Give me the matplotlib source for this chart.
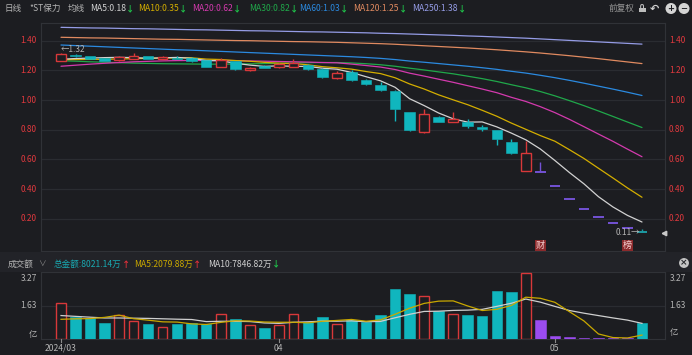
import matplotlib
matplotlib.use('Agg')
import matplotlib.pyplot as plt
from matplotlib.patches import Rectangle
import numpy as np
import pandas as pd

plt.rcParams['font.family'] = ['Noto Sans CJK SC', 'DejaVu Sans']

# ---------------- data ----------------
month_labels = ['2024/03', '04', '05']
month_first_idx = [0, 15, 34]

opens = [1.26, 1.305, 1.298, 1.281, 1.27, 1.28, 1.297, 1.28, 1.285, 1.286,
         1.268, 1.226, 1.261, 1.20, 1.23, 1.22, 1.226, 1.234, 1.211, 1.147,
         1.19, 1.135, 1.10, 1.061, 0.918, 0.783, 0.888, 0.855, 0.855, 0.82,
         0.80, 0.716, 0.525, 0.517, 0.42, 0.333, 0.266, 0.213, 0.17, 0.136, 0.11]
highs = [1.32, 1.31, 1.30, 1.283, 1.295, 1.315, 1.30, 1.30, 1.295, 1.29,
         1.27, 1.285, 1.265, 1.225, 1.233, 1.25, 1.28, 1.24, 1.215, 1.195,
         1.20, 1.14, 1.12, 1.065, 0.92, 0.94, 0.895, 0.92, 0.87, 0.835,
         0.80, 0.738, 0.727, 0.58, 0.42, 0.333, 0.266, 0.213, 0.17, 0.136, 0.13]
lows = [1.26, 1.29, 1.275, 1.262, 1.265, 1.275, 1.275, 1.275, 1.275, 1.255,
        1.22, 1.22, 1.20, 1.198, 1.215, 1.215, 1.22, 1.205, 1.15, 1.145,
        1.13, 1.10, 1.06, 0.86, 0.795, 0.78, 0.85, 0.85, 0.815, 0.79,
        0.70, 0.64, 0.52, 0.517, 0.42, 0.333, 0.266, 0.213, 0.17, 0.136, 0.11]
closes = [1.31, 1.297, 1.277, 1.266, 1.29, 1.30, 1.277, 1.29, 1.28, 1.26,
          1.225, 1.268, 1.207, 1.218, 1.218, 1.243, 1.25, 1.207, 1.155, 1.185,
          1.135, 1.106, 1.068, 0.938, 0.80, 0.904, 0.855, 0.873, 0.826, 0.807,
          0.738, 0.646, 0.646, 0.517, 0.42, 0.333, 0.266, 0.213, 0.17, 0.136, 0.11]

# moving averages (values for the early part)
ma5_head = [1.275, 1.280, 1.283, 1.286]
ma10_head = [1.272, 1.273, 1.274, 1.275, 1.277, 1.279, 1.281, 1.283, 1.284]
ma20_head = [1.228, 1.235, 1.242, 1.248, 1.253, 1.258, 1.261, 1.264, 1.266, 1.267,
             1.267, 1.267, 1.266, 1.264, 1.262, 1.260, 1.258, 1.256, 1.253]
ma30_head = [1.265, 1.262, 1.258, 1.255, 1.252, 1.249, 1.247, 1.245, 1.244, 1.243,
             1.242, 1.242, 1.243, 1.244, 1.246, 1.248, 1.250, 1.252, 1.253, 1.253,
             1.250, 1.245, 1.238, 1.228, 1.215, 1.203, 1.190, 1.177, 1.161]
ma60 = [1.371, 1.367, 1.363, 1.359, 1.355, 1.351, 1.347, 1.343, 1.339, 1.336,
        1.332, 1.328, 1.324, 1.320, 1.316, 1.312, 1.308, 1.304, 1.300, 1.296,
        1.292, 1.287, 1.281, 1.273, 1.263, 1.255, 1.246, 1.237, 1.228, 1.218,
        1.207, 1.194, 1.182, 1.167, 1.151, 1.133, 1.114, 1.094, 1.074, 1.053, 1.031]
ma120 = [1.423, 1.421, 1.419, 1.418, 1.416, 1.414, 1.412, 1.410, 1.409, 1.407,
         1.405, 1.403, 1.401, 1.400, 1.398, 1.396, 1.394, 1.393, 1.391, 1.389,
         1.386, 1.383, 1.380, 1.376, 1.371, 1.366, 1.361, 1.356, 1.351, 1.345,
         1.339, 1.332, 1.325, 1.317, 1.308, 1.299, 1.289, 1.279, 1.268, 1.257, 1.246]
ma250 = [1.490, 1.488, 1.486, 1.485, 1.483, 1.481, 1.480, 1.478, 1.476, 1.474,
         1.473, 1.471, 1.469, 1.467, 1.466, 1.464, 1.462, 1.460, 1.459, 1.457,
         1.455, 1.453, 1.450, 1.448, 1.445, 1.442, 1.439, 1.436, 1.432, 1.429,
         1.425, 1.421, 1.417, 1.412, 1.407, 1.402, 1.397, 1.392, 1.387, 1.382, 1.377]

# turnover in 亿
volumes = [1.78, 1.11, 1.03, 0.81, 1.22, 0.90, 0.75, 0.62, 0.75, 0.78,
           0.75, 1.27, 1.01, 0.69, 0.54, 0.69, 1.27, 0.86, 1.08, 0.75,
           0.93, 0.83, 1.18, 2.47, 2.25, 2.11, 1.39, 1.24, 1.22, 1.13,
           2.40, 2.35, 3.27, 0.95, 0.15, 0.09, 0.07, 0.06, 0.06, 0.05, 0.80]
vol_ma5_head = [0.985, 1.01, 1.02, 1.08]
vol_ma10_head = [1.17, 1.13, 1.09, 1.05, 1.05, 1.04, 1.03, 1.01, 0.99]

# legend readouts (万)
total_amount_wan = 8021.14
vol_ma5_wan = 2079.88
vol_ma10_wan = 7846.82

limit_down_idx = [33, 34, 35, 36, 37, 38, 39]
price_ticks = [1.40, 1.20, 1.00, 0.80, 0.60, 0.40, 0.20]
vol_tick_labels = ['3.27', '1.63']
vol_ticks = [3.27, 1.63]
event_idx = [33, 39]
event_text = ['财', '榜']

ma_names = ['MA5', 'MA10', 'MA20', 'MA30', 'MA60', 'MA120', 'MA250']

# ---------------- styles ----------------
BG = '#1c1d21'
GRID = '#2a2c31'
SPINE = '#303237'
TXT = '#b4b4b4'
RED = '#d8383a'
CYAN = '#10b6be'
DOJI = '#1c9aa2'
PURPLE = '#7352d4'
VPURPLE = '#9b4cf0'
AXRED = '#e0393e'
GREEN_ARROW = '#1fc24a'
ma_colors = ['#d2d2d2', '#d4ae00', '#d43aae', '#20a84a', '#2b8ae0', '#e08a60', '#959ce6']
FS = 6.2

W, H = 692, 355
fig = plt.figure(figsize=(W / 100, H / 100), dpi=100, facecolor=BG)


def fx(x):
    return x / W


def fy(y):
    return 1 - y / H


# header band of volume panel
fig.patches.append(Rectangle((0, fy(271.7)), 1, (271.7 - 251.5) / H,
                             transform=fig.transFigure, fc='#222328', ec='none', zorder=0))

L, R = 40.7, 665.0
ax = fig.add_axes([fx(L), fy(251), (R - L) / W, (251 - 22.7) / H])
axv = fig.add_axes([fx(L), fy(339.3), (R - L) / W, (339.3 - 271.7) / H])

n = len(closes)
idx = np.arange(n)
x0_px, step_px = 61.0, 14.525
xlim = ((L - x0_px) / step_px, (R - x0_px) / step_px)

for a in (ax, axv):
    a.set_facecolor(BG)
    a.set_xlim(*xlim)
    for s in a.spines.values():
        s.set_color(SPINE)
        s.set_linewidth(0.8)
    a.set_xticks([])
    a.set_yticks([])

ax.set_ylim(1.40 - (251 - 40.7) / 148.5, 1.40 + (40.7 - 22.7) / 148.5)
axv.set_ylim(0, (339.3 - 271.7) / 20.3)

for p in price_ticks:
    ax.axhline(p, color=GRID, lw=0.9, zorder=0)
pr_to_y = lambda p: 40.7 + (1.40 - p) * 148.5
for p in price_ticks:
    fig.text(fx(36.5), fy(pr_to_y(p)), f'{p:.2f}', color=AXRED, fontsize=6,
             ha='right', va='center')
    fig.text(fx(669), fy(pr_to_y(p)), f'{p:.2f}', color=AXRED, fontsize=6,
             ha='left', va='center')

# ---------------- MAs ----------------
cs = pd.Series(closes)


def rolling_with_head(series, w, head):
    arr = series.rolling(w).mean().to_numpy()
    arr[:len(head)] = head
    return arr


ma_series = [rolling_with_head(cs, 5, ma5_head),
             rolling_with_head(cs, 10, ma10_head),
             rolling_with_head(cs, 20, ma20_head),
             rolling_with_head(cs, 30, ma30_head),
             np.array(ma60), np.array(ma120), np.array(ma250)]
for arr, col in zip(ma_series[::-1], ma_colors[::-1]):
    ax.plot(idx, arr, color=col, lw=0.9, zorder=3, solid_capstyle='round')

# ---------------- candles ----------------
BW = 0.72
for i in range(n):
    o, h, l, c = opens[i], highs[i], lows[i], closes[i]
    doji = abs(c - o) < 0.003
    if i in limit_down_idx:
        col = PURPLE
    elif doji:
        col = DOJI
    elif c > o:
        col = RED
    else:
        col = CYAN
    top, bot = max(o, c), min(o, c)
    if h > top + 1e-6:
        ax.vlines(i, top, h, color=col, lw=1.0, zorder=4)
    if l < bot - 1e-6:
        ax.vlines(i, l, bot, color=col, lw=1.0, zorder=4)
    if doji or i in limit_down_idx:
        ax.hlines(c, i - BW / 2, i + BW / 2, color=col, lw=1.4, zorder=5)
    elif c > o:
        ax.bar(i, top - bot, bottom=bot, width=BW - 0.06, facecolor=BG,
               edgecolor=col, lw=1.0, zorder=5)
    else:
        ax.bar(i, top - bot, bottom=bot, width=BW, facecolor=col,
               edgecolor=col, lw=0.4, zorder=5)

# high / low markers
hi_i = int(np.argmax(highs))
lo_i = int(np.argmin(lows))
ax.text(hi_i - 0.05, highs[hi_i] + 0.02, f'←{highs[hi_i]:.2f}', color=TXT,
        fontsize=6, ha='left', va='center', zorder=6)
ax.text(lo_i - 0.15, lows[lo_i] - 0.003, f'{lows[lo_i]:.2f}→', color=TXT,
        fontsize=6, ha='right', va='center', zorder=6)
ax.plot([xlim[1] - 0.1], [closes[-1] - 0.006], marker='<', ms=3.2, color='#c8c8c8',
        clip_on=False, zorder=6)

# event markers
ybot = ax.get_ylim()[0]
for ei, et in zip(event_idx, event_text):
    ax.text(ei, ybot + 0.036, et, color='#f6d2d2', fontsize=6.5, ha='center',
            va='center', zorder=7,
            bbox=dict(boxstyle='square,pad=0.08', fc='#8c2a2c', ec='none'))

# ---------------- volume ----------------
for i in range(n):
    o, c = opens[i], closes[i]
    v = volumes[i]
    if c > o:
        axv.bar(i, v, width=BW - 0.06, facecolor=BG, edgecolor=RED, lw=1.0, zorder=3)
    elif i in limit_down_idx:
        axv.bar(i, v, width=BW, facecolor=VPURPLE, edgecolor=VPURPLE, lw=0.4, zorder=3)
    else:
        axv.bar(i, v, width=BW, facecolor=CYAN, edgecolor=CYAN, lw=0.4, zorder=3)

vs = pd.Series(volumes)
vma5 = rolling_with_head(vs, 5, vol_ma5_head)
vma10 = rolling_with_head(vs, 10, vol_ma10_head)
axv.plot(idx, vma10, color='#cfcfcf', lw=0.9, zorder=4)
axv.plot(idx, vma5, color='#c9a800', lw=0.9, zorder=5)
axv.axhline(vol_ticks[1], color=GRID, lw=0.9, zorder=0)

label_y = [278.3, 306.0]
for lab, yy in zip(vol_tick_labels, label_y):
    fig.text(fx(37), fy(yy), lab, color=TXT, fontsize=6, ha='right', va='center')
    fig.text(fx(669.5), fy(yy), lab, color=TXT, fontsize=6, ha='left', va='center')
fig.text(fx(37), fy(334), '亿', color=TXT, fontsize=6, ha='right', va='center')
fig.text(fx(669.5), fy(332), '亿', color=TXT, fontsize=6, ha='left', va='center')

# month ticks / labels
for lab, mi in zip(month_labels, month_first_idx):
    axv.plot([mi, mi], [0, -0.12], color='#8a8a8a', lw=0.8, clip_on=False, zorder=6)
    fig.text(fx(x0_px + step_px * mi), fy(348.5), lab, color=TXT, fontsize=6.2,
             ha='center', va='center')

# ---------------- header texts ----------------
renderer = fig.canvas.get_renderer()


def put(x, y, s, color, fs=FS, **kw):
    t = fig.text(fx(x), fy(y), s, color=color, fontsize=fs, ha='left', va='center', **kw)
    return t.get_window_extent(renderer).x1


put(4, 8.5, '日线', TXT)
put(29, 8.5, '*ST保力', TXT)
put(68, 8.5, '均线', TXT)
ma_last = [s[-1] for s in ma_series]
label_x = [90, 137.7, 192.3, 249.3, 299, 353, 412]
for name, val, col, lx in zip(ma_names, ma_last, ma_colors, label_x):
    xe = put(lx, 8.5, f'{name}:{val:.2f}', col)
    put(xe, 8.5, '↓', GREEN_ARROW, fs=6, fontweight='bold')

put(609, 8.5, '前复权', '#9a9a9a')
# lock
fig.patches.append(Rectangle((fx(638.5), fy(12)), 7 / W, 4.5 / H, transform=fig.transFigure,
                             fc='#bdbdbd', ec='none'))
fig.text(fx(642), fy(6.2), '∩', color='#bdbdbd', fontsize=5.5, ha='center', va='center',
         family='DejaVu Sans', fontweight='bold')
fig.text(fx(655), fy(8.5), '↶', color='#cfcfcf', fontsize=8, ha='center', va='center',
         family='DejaVu Sans', fontweight='bold')
for cx, sym in ((671, '+'), (684, '−')):
    fig.text(fx(cx), fy(8.5), sym, color=BG, fontsize=6, ha='center', va='center',
             family='DejaVu Sans', fontweight='bold',
             bbox=dict(boxstyle='circle,pad=0.12', fc='#d4d4d4', ec='none'))

# volume header
put(8, 264, '成交额', TXT)
put(38, 264, '∨', '#8a8a8a', fs=5.5)
xe = put(54, 264, f'总金额:{total_amount_wan:.2f}万', '#19aab2')
put(xe, 264, '↑', '#e0303a', fs=6, fontweight='bold')
xe = put(134, 264, f'MA5:{vol_ma5_wan:.2f}万', '#c9a800')
put(xe, 264, '↑', '#e0303a', fs=6, fontweight='bold')
xe = put(208.5, 264, f'MA10:{vol_ma10_wan:.2f}万', '#cfcfcf')
put(xe, 264, '↓', GREEN_ARROW, fs=6, fontweight='bold')
fig.text(fx(684), fy(263), '×', color='#26272b', fontsize=6.5, ha='center', va='center',
         family='DejaVu Sans', fontweight='bold',
         bbox=dict(boxstyle='circle,pad=0.05', fc='#c4c4c4', ec='none'))

fig.savefig('out.png', dpi=100, facecolor=BG)
